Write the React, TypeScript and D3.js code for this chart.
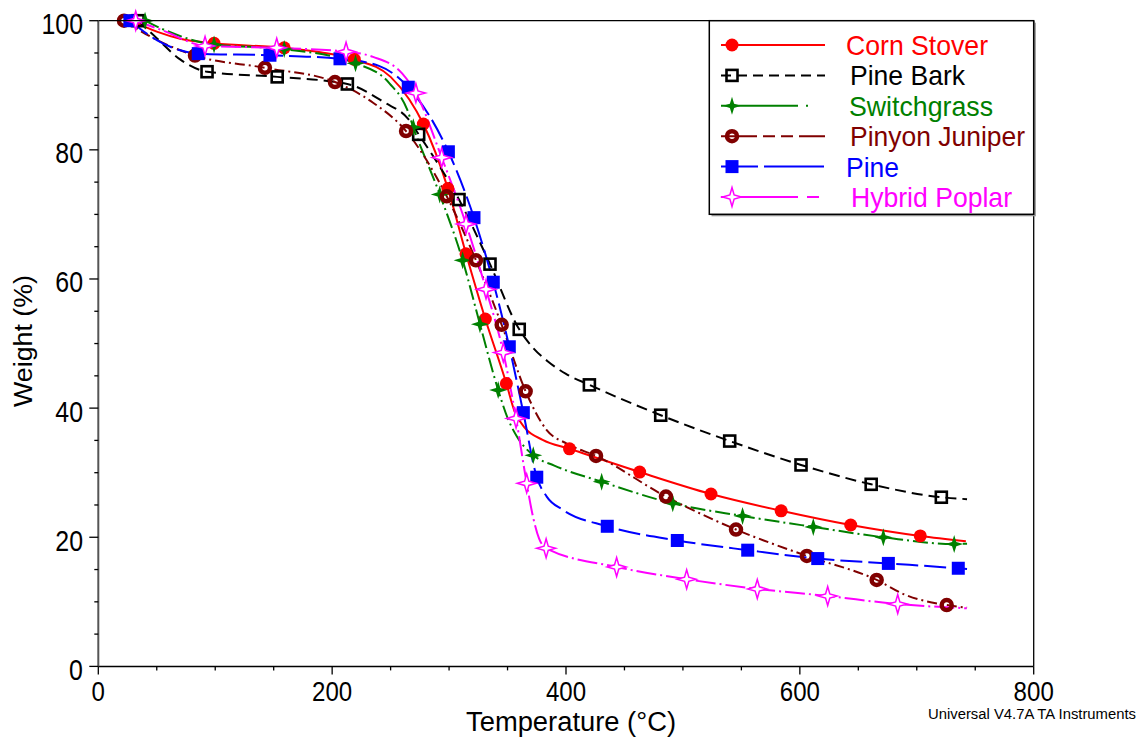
import React from 'react';
import * as d3 from 'd3';

type P = [number, number];

// Axis ticks
const tempTicks = [0, 200, 400, 600, 800];
const weightTicks = [0, 20, 40, 60, 80, 100];

// Series names
const seriesNames = ['Corn Stover', 'Pine Bark', 'Switchgrass', 'Pinyon Juniper', 'Pine', 'Hybrid Poplar'];

// Marker points (Temperature °C, Weight %)
const cornMarkers: P[] = [[28, 100], [99, 96.5], [159, 95.8], [219, 94.0], [278, 84.0], [299, 74.0], [314.5, 63.9], [331, 53.8], [349, 43.8], [403, 33.7], [463, 30.1], [524, 26.7], [584, 24.1], [643.5, 21.9], [703, 20.2]];
const cornKnots: P[] = [[50, 98.3], [70, 97.2], [190, 95.1], [250, 91.3], [266, 87.8], [356, 39.5], [365, 36.9], [380, 35.1], [742, 19.4]];

const barkMarkers: P[] = [[34, 100], [93, 92.1], [153, 91.3], [213, 90.2], [274, 82.4], [308.5, 72.3], [335, 62.3], [360, 52.2], [420, 43.6], [481, 38.9], [540, 34.9], [601, 31.2], [661, 28.2], [721, 26.2]];
const barkKnots: P[] = [[50, 97.3], [70, 94.0], [245, 87.3], [265, 84.8], [372, 49.3], [384, 47.3], [400, 45.3], [743, 25.9]];

const switchMarkers: P[] = [[40, 100], [99, 96.3], [159, 95.6], [220, 93.4], [269.4, 83.5], [292, 73.1], [311.6, 62.9], [326.4, 53.0], [342, 42.8], [372, 32.7], [430.5, 28.6], [491.3, 25.25], [551, 23.3], [611.5, 21.6], [671.4, 20.0], [732, 18.95]];
const switchKnots: P[] = [[55, 98.7], [249, 90.3], [264, 86.3], [350, 38.5], [358, 35.6], [390, 31.1], [743, 19.0]];

const pinyonMarkers: P[] = [[22, 100], [82.7, 94.6], [142.5, 92.7], [202.4, 90.5], [263.2, 82.9], [298, 72.8], [323, 62.9], [345, 52.9], [365.5, 42.6], [425.7, 32.6], [485.5, 26.3], [545.4, 21.2], [606, 17.1], [665.7, 13.4], [725.6, 9.5]];
const pinyonKnots: P[] = [[45, 97.5], [235, 87.3], [383.5, 36.6], [400.6, 34.5], [690, 11.1], [743, 9.1]];

const pineMarkers: P[] = [[27, 100], [85.5, 94.9], [146.8, 94.65], [206.7, 94.1], [265.1, 89.7], [299.4, 79.7], [321.3, 69.5], [337.8, 59.5], [351.5, 49.5], [363.5, 39.3], [375, 29.3], [435.3, 21.7], [495.2, 19.5], [555.4, 18.0], [615.3, 16.7], [675.7, 15.95], [735.5, 15.2]];
const pineKnots: P[] = [[50, 97.0], [240, 93.0], [383.5, 26.3], [397.7, 24.2], [743, 15.1]];

const poplarMarkers: P[] = [[32, 100], [91.3, 96.1], [152.6, 95.8], [211.9, 95.2], [271.6, 88.8], [293.7, 78.8], [314.5, 68.5], [331.6, 58.4], [346.4, 48.6], [357.3, 38.4], [366.4, 28.35], [383, 18.3], [443.3, 15.4], [503.2, 13.5], [563.6, 12.0], [623.8, 10.9], [683.7, 9.66]];
const poplarKnots: P[] = [[55, 98.5], [235, 94.4], [260, 91.8], [372, 23.0], [377, 19.8], [742.7, 9.0]];

type MarkerKind = 'dot' | 'openSquare' | 'star' | 'ring' | 'square' | 'openStar';

const series = [
  { name: seriesNames[0], markers: cornMarkers, knots: cornKnots, color: '#ff0000', dash: 'none', legendDash: 'none', kind: 'dot' as MarkerKind, textX: 846, textLen: 142 },
  { name: seriesNames[1], markers: barkMarkers, knots: barkKnots, color: '#000000', dash: '11,6', legendDash: '10,6', kind: 'openSquare' as MarkerKind, textX: 850, textLen: 115 },
  { name: seriesNames[2], markers: switchMarkers, knots: switchKnots, color: '#008000', dash: '15,4,2,4', legendDash: '77,8,2,40', kind: 'star' as MarkerKind, textX: 849, textLen: 144 },
  { name: seriesNames[3], markers: pinyonMarkers, knots: pinyonKnots, color: '#800000', dash: '10,4,2,4', legendDash: '36,6,12,6,12,6', kind: 'ring' as MarkerKind, textX: 850, textLen: 175 },
  { name: seriesNames[4], markers: pineMarkers, knots: pineKnots, color: '#0000ff', dash: '22,6', legendDash: '37,6,60', kind: 'square' as MarkerKind, textX: 846, textLen: 53 },
  { name: seriesNames[5], markers: poplarMarkers, knots: poplarKnots, color: '#ff00ff', dash: '20,4,2,4', legendDash: '77,9,12,40', kind: 'openStar' as MarkerKind, textX: 851, textLen: 161 },
];

const starPath = (R: number, r: number) => {
  const pts: [number, number][] = d3.range(8).map((i) => [(i * Math.PI) / 4, i % 2 === 0 ? R : r]);
  return d3.lineRadial().curve(d3.curveLinearClosed)(pts) as string;
};

function Marker({ kind, cx, cy, color }: { kind: MarkerKind; cx: number; cy: number; color: string }) {
  switch (kind) {
    case 'dot':
      return <circle cx={cx} cy={cy} r={6.5} fill={color} />;
    case 'openSquare':
      return <rect x={cx - 5.5} y={cy - 5.5} width={11} height={11} fill="none" stroke={color} strokeWidth={2.6} />;
    case 'star':
      return <path d={starPath(9, 3)} transform={`translate(${cx},${cy})`} fill={color} />;
    case 'ring':
      return <circle cx={cx} cy={cy} r={5} fill="none" stroke={color} strokeWidth={4.5} />;
    case 'square':
      return <rect x={cx - 6.5} y={cy - 6.5} width={13} height={13} fill={color} />;
    case 'openStar':
      return <path d={starPath(9.5, 3)} transform={`translate(${cx},${cy})`} fill="white" stroke={color} strokeWidth={1.5} />;
  }
  return null;
}

export default function App() {
  const x = d3.scaleLinear().domain([0, 800]).range([98.3, 1033.7]);
  const y = d3.scaleLinear().domain([0, 100]).range([666.4, 20.7]);
  const line = d3
    .line<P>()
    .x((d) => x(d[0]))
    .y((d) => y(d[1]))
    .curve(d3.curveMonotoneX);

  const yMinor = d3.range(0, 101, 5);
  const xMinor = d3.range(0, 801, 50);
  const font = "'Liberation Sans', Arial, sans-serif";

  return (
    <svg width={1142} height={740} style={{ position: 'absolute', left: 0, top: 0, background: '#fff' }} fontFamily={font}>
      <rect x={0} y={0} width={1142} height={740} fill="#fff" />
      {/* curves */}
      {series.map((s) => {
        const pts = [...s.markers, ...s.knots].sort((a, b) => a[0] - b[0]);
        return (
          <path key={s.name} d={line(pts) as string} fill="none" stroke={s.color} strokeWidth={2} strokeDasharray={s.dash} />
        );
      })}
      {/* markers */}
      {series.map((s) => (
        <g key={s.name + 'm'}>
          {s.markers.map((d, i) => (
            <Marker key={i} kind={s.kind} cx={x(d[0])} cy={y(d[1])} color={s.color} />
          ))}
        </g>
      ))}
      {/* frame */}
      <line x1={x(0)} x2={x(800)} y1={y(100)} y2={y(100)} stroke="#000" strokeWidth={1.3} />
      <line x1={x(800)} x2={x(800)} y1={y(100)} y2={y(0)} stroke="#000" strokeWidth={1.3} />
      <line x1={x(0)} x2={x(800)} y1={y(0)} y2={y(0)} stroke="#000" strokeWidth={1.5} />
      <line x1={x(0)} x2={x(0)} y1={y(100)} y2={y(0)} stroke="#555" strokeWidth={2} />
      {/* y ticks */}
      {yMinor.map((v) => (
        <line key={'yt' + v} x1={x(0) - (v % 20 === 0 ? 9 : 4)} x2={x(0)} y1={y(v)} y2={y(v)} stroke="#000" strokeWidth={1.3} />
      ))}
      {weightTicks.map((v) => (
        <text key={'yl' + v} transform={`translate(83,${y(v) + 13.5}) scale(0.86,1)`} textAnchor="end" fontSize={29} fill="#000">
          {v}
        </text>
      ))}
      {/* x ticks */}
      {xMinor.map((v) => (
        <line key={'xt' + v} x1={x(v)} x2={x(v)} y1={y(0)} y2={y(0) + (v % 200 === 0 ? 8 : 4)} stroke="#000" strokeWidth={1.3} />
      ))}
      {tempTicks.map((v) => (
        <text key={'xl' + v} transform={`translate(${x(v)},701) scale(0.86,1)`} textAnchor="middle" fontSize={28} fill="#000">
          {v}
        </text>
      ))}
      {/* axis titles */}
      <text x={466} y={731} fontSize={27} textLength={210} lengthAdjust="spacingAndGlyphs" fill="#000">
        Temperature (°C)
      </text>
      <text transform="translate(32,407) rotate(-90)" fontSize={26} textLength={132} lengthAdjust="spacingAndGlyphs" fill="#000">
        Weight (%)
      </text>
      <text x={928} y={719} fontSize={15.5} textLength={208} lengthAdjust="spacingAndGlyphs" fill="#000">
        Universal V4.7A TA Instruments
      </text>
      {/* legend */}
      <rect x={711.5} y={22.7} width={324.4} height={193.6} fill="#999" />
      <rect x={709.3} y={20.7} width={324.4} height={193.6} fill="#fff" stroke="#000" strokeWidth={1.5} />
      {series.map((s, i) => {
        const cy = 45 + i * 30.4;
        return (
          <g key={s.name + 'l'}>
            <line x1={721} x2={825} y1={cy} y2={cy} stroke={s.color} strokeWidth={2} strokeDasharray={s.legendDash} />
            <Marker kind={s.kind} cx={732} cy={cy} color={s.color} />
            <text x={s.textX} y={cy + 10} fontSize={28} textLength={s.textLen} lengthAdjust="spacingAndGlyphs" fill={s.color}>
              {s.name}
            </text>
          </g>
        );
      })}
    </svg>
  );
}
